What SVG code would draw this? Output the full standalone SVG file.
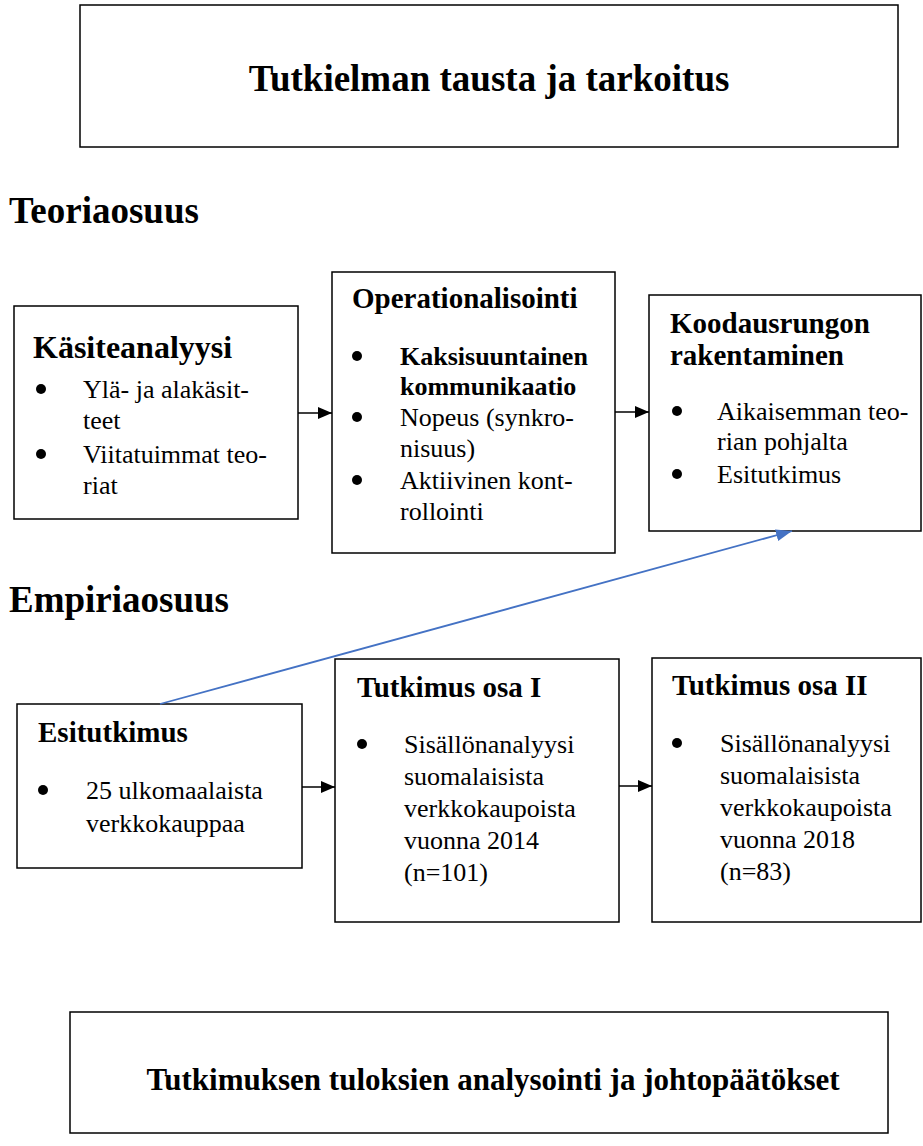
<svg xmlns="http://www.w3.org/2000/svg" width="923" height="1146" viewBox="0 0 923 1146">
<style>
.box{fill:#fff;stroke:#000;stroke-width:1.5}
.t{font-family:"Liberation Serif","Times New Roman",serif;fill:#000}
.b{font-weight:bold}
.h{font-size:37px;font-weight:bold}
.ti{font-size:29px;font-weight:bold}
.tx{font-size:26px}
.dot{fill:#000}
.con{stroke:#000;stroke-width:1.5;fill:none}
.blue{stroke:#4472C4;stroke-width:1.8;fill:none}
</style>
<defs>
<marker id="ah" viewBox="0 0 14 12" refX="14" refY="6" markerWidth="14" markerHeight="12" markerUnits="userSpaceOnUse" orient="auto"><path d="M0,0 L14,6 L0,12 z" fill="#000"/></marker>
<marker id="ahb" viewBox="0 0 16 12" refX="16" refY="6" markerWidth="16" markerHeight="12" markerUnits="userSpaceOnUse" orient="auto"><path d="M0,0 L16,6 L0,12 z" fill="#4472C4"/></marker>
</defs>
<rect width="923" height="1146" fill="#fff"/>

<g id="top">
<rect class="box" x="80" y="5" width="818" height="142"/>
<text class="t" x="489" y="91" style="font-size:37px;font-weight:bold;text-anchor:middle">Tutkielman tausta ja tarkoitus</text>
</g>

<g id="heading-teoria"><text class="t h" x="9" y="223">Teoriaosuus</text></g>
<g id="heading-empiria"><text class="t h" x="9" y="612">Empiriaosuus</text></g>

<g id="kasiteanalyysi">
<rect class="box" x="14" y="306" width="284" height="213"/>
<text class="t" x="33" y="358" style="font-size:32px;font-weight:bold">Käsiteanalyysi</text>
<circle class="dot" cx="41" cy="389" r="5"/>
<text class="t tx" x="83" y="398">Ylä- ja alakäsit-</text>
<text class="t tx" x="83" y="429">teet</text>
<circle class="dot" cx="41" cy="454" r="5"/>
<text class="t tx" x="83" y="463">Viitatuimmat teo-</text>
<text class="t tx" x="83" y="494">riat</text>
</g>

<g id="operationalisointi">
<rect class="box" x="332" y="272" width="283" height="281"/>
<text class="t ti" x="352" y="308">Operationalisointi</text>
<circle class="dot" cx="357" cy="356" r="5"/>
<text class="t tx b" x="400" y="365">Kaksisuuntainen</text>
<text class="t tx b" x="400" y="395">kommunikaatio</text>
<circle class="dot" cx="357" cy="417" r="5"/>
<text class="t tx" x="400" y="426">Nopeus (synkro-</text>
<text class="t tx" x="400" y="457">nisuus)</text>
<circle class="dot" cx="357" cy="480" r="5"/>
<text class="t tx" x="400" y="489">Aktiivinen kont-</text>
<text class="t tx" x="400" y="520">rollointi</text>
</g>

<g id="koodausrunko">
<rect class="box" x="649" y="295" width="272" height="236"/>
<text class="t ti" x="670" y="333">Koodausrungon</text>
<text class="t ti" x="670" y="365">rakentaminen</text>
<circle class="dot" cx="677" cy="411" r="5"/>
<text class="t tx" x="717" y="420">Aikaisemman teo-</text>
<text class="t tx" x="717" y="450">rian pohjalta</text>
<circle class="dot" cx="677" cy="474" r="5"/>
<text class="t tx" x="717" y="483">Esitutkimus</text>
</g>

<g id="esitutkimus">
<rect class="box" x="17" y="704" width="285" height="164"/>
<text class="t ti" x="38" y="742">Esitutkimus</text>
<circle class="dot" cx="43" cy="790" r="5"/>
<text class="t tx" x="86" y="799">25 ulkomaalaista</text>
<text class="t tx" x="86" y="832">verkkokauppaa</text>
</g>

<g id="tutkimus1">
<rect class="box" x="335" y="659" width="284" height="263"/>
<text class="t ti" x="357" y="697">Tutkimus osa I</text>
<circle class="dot" cx="362" cy="744" r="5"/>
<text class="t tx" x="404" y="753">Sisällönanalyysi</text>
<text class="t tx" x="404" y="785">suomalaisista</text>
<text class="t tx" x="404" y="817">verkkokaupoista</text>
<text class="t tx" x="404" y="849">vuonna 2014</text>
<text class="t tx" x="404" y="881">(n=101)</text>
</g>

<g id="tutkimus2">
<rect class="box" x="652" y="658" width="269" height="264"/>
<text class="t ti" x="672" y="695">Tutkimus osa II</text>
<circle class="dot" cx="677" cy="743" r="5"/>
<text class="t tx" x="720" y="752">Sisällönanalyysi</text>
<text class="t tx" x="720" y="784">suomalaisista</text>
<text class="t tx" x="720" y="816">verkkokaupoista</text>
<text class="t tx" x="720" y="848">vuonna 2018</text>
<text class="t tx" x="720" y="880">(n=83)</text>
</g>

<g id="bottom">
<rect class="box" x="70" y="1012" width="818" height="121"/>
<text class="t" x="493" y="1090" style="font-size:31px;font-weight:bold;text-anchor:middle">Tutkimuksen tuloksien analysointi ja johtopäätökset</text>
</g>

<g id="connectors">
<line class="con" x1="298" y1="413" x2="332" y2="413" marker-end="url(#ah)"/>
<line class="con" x1="615" y1="412" x2="649" y2="412" marker-end="url(#ah)"/>
<line class="con" x1="302" y1="787" x2="335" y2="787" marker-end="url(#ah)"/>
<line class="con" x1="619" y1="786" x2="652" y2="786" marker-end="url(#ah)"/>
<line class="blue" x1="160" y1="704" x2="792" y2="531" marker-end="url(#ahb)"/>
</g>
</svg>
